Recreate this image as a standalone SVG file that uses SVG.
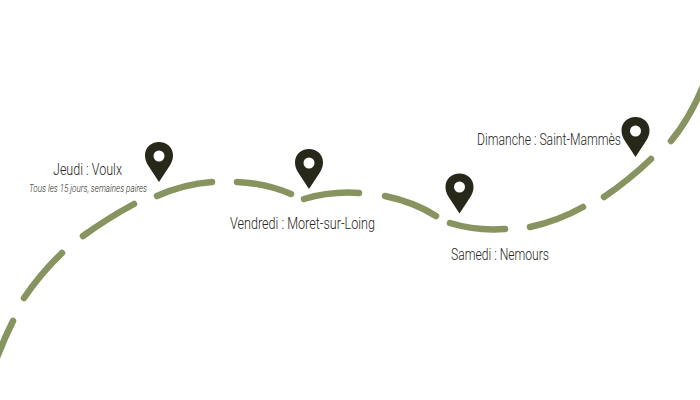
<svg xmlns="http://www.w3.org/2000/svg" width="700" height="400" viewBox="0 0 700 400">
<defs>
<style>
.route{fill:none;stroke:#87945f;stroke-width:6.500;stroke-linecap:round}
.pin{fill:#27281a}
.hole{fill:#fff}
text{font-family:"Roboto","Liberation Sans",sans-serif;font-weight:300;fill:#27281a;font-size:17px}
.note{font-style:italic;font-size:11px}
</style>
<path id="pinShape" d="M0 40L-10.500 24C-12.800 20.500-14 17-14 13.500C-14 5.500-8 0 0 0C8 0 14 5.500 14 13.500C14 17 12.800 20.500 10.500 24Z"/>
</defs>
<rect width="700" height="400" fill="#fff"/>
<g id="route">
<path class="route" d="M-4 360Q4 339 13 321"/>
<path class="route" d="M24 298Q41 273 62 253"/>
<path class="route" d="M83 236Q108 218 134 204"/>
<path class="route" d="M157 196Q184 184 212 182"/>
<path class="route" d="M237 182Q265 183 291 194"/>
<path class="route" d="M304 199Q331 191 359 193"/>
<path class="route" d="M385 196Q414 202 436 216"/>
<path class="route" d="M450 223Q476 231 505 229"/>
<path class="route" d="M530 227Q558 221 583 207"/>
<path class="route" d="M604 197Q629 180 651 159"/>
<path class="route" d="M671 141Q690 118 704 84"/>
</g>
<g id="node-jeudi">
<use href="#pinShape" class="pin" x="159" y="142"/><circle class="hole" cx="159" cy="156" r="5.500"/>
<text x="53" y="175" textLength="69" lengthAdjust="spacingAndGlyphs">Jeudi : Voulx</text>
<text class="note" x="29" y="192" textLength="118" lengthAdjust="spacingAndGlyphs">Tous les 15 jours, semaines paires</text>
</g>
<g id="node-vendredi">
<use href="#pinShape" class="pin" x="309" y="149"/><circle class="hole" cx="309" cy="163" r="5.500"/>
<text x="230" y="229" textLength="145" lengthAdjust="spacingAndGlyphs">Vendredi : Moret-sur-Loing</text>
</g>
<g id="node-samedi">
<use href="#pinShape" class="pin" x="459.500" y="173.500"/><circle class="hole" cx="459.500" cy="187" r="5.500"/>
<text x="451" y="260" textLength="98" lengthAdjust="spacingAndGlyphs">Samedi : Nemours</text>
</g>
<g id="node-dimanche">
<use href="#pinShape" class="pin" x="635.500" y="117"/><circle class="hole" cx="635.500" cy="131" r="5.500"/>
<text x="477" y="145" textLength="144" lengthAdjust="spacingAndGlyphs">Dimanche : Saint-Mammès</text>
</g>
</svg>
